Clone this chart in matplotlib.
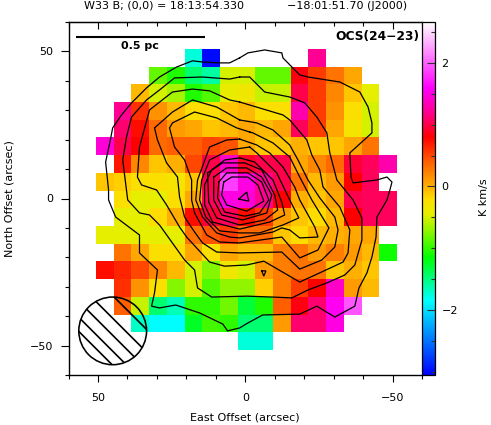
import numpy as np
import matplotlib
matplotlib.use("Agg")
import matplotlib.pyplot as plt
from matplotlib.colors import LinearSegmentedColormap, Normalize
from matplotlib.patches import Circle
from matplotlib.ticker import MultipleLocator, FixedLocator

n = np.nan

# integrated intensity (K km/s), rows from north to south, columns from east to west
ROW_P8 = [n, n, n, n, n, -1.75, -3.0, n, n, n, n, n, 1.2, n, n, n, n]
ROW_P7 = [n, n, n, -0.85, -1.05, -1.45, -1.6, -0.5, -0.5, -0.85, -0.85, 0.85, 0.55, 0.3, 0.05, n, n]
ROW_P6 = [n, n, -0.05, -0.5, -0.65, -1.05, -0.9, -0.4, -0.35, -0.55, -0.55, 1.0, 0.55, 0.2, -0.1, -0.45, n]
ROW_P5 = [n, 1.2, 0.6, 0.15, -0.05, -0.25, -0.25, -0.1, -0.05, -0.25, -0.25, 1.3, 0.55, 0.15, -0.25, -0.5, n]
ROW_P4 = [n, 1.1, 0.75, 0.35, 0.1, 0.05, -0.1, -0.05, 0.05, -0.05, 0.05, 1.05, 0.55, 0.05, -0.3, -0.5, n]
ROW_P3 = [1.45, 1.0, 0.8, 0.35, 0.4, 0.4, 0.5, 0.45, 0.05, -0.1, -0.1, 0.0, -0.1, -0.1, 0.05, 0.3, n]
ROW_P2 = [n, 0.7, 0.2, -0.1, 0.0, 0.5, 1.0, 1.4, 0.9, 1.0, 1.0, 0.05, 0.2, 0.35, 0.95, 1.05, 1.3]
ROW_P1 = [-0.1, -0.15, -0.25, -0.25, -0.3, -0.1, 1.0, 1.85, 1.5, 1.2, 1.0, 0.3, -0.05, 0.1, 0.8, 1.05, n]
ROW_00 = [n, -0.25, -0.45, -0.45, -0.25, 0.05, 1.05, 1.5, 1.45, 1.2, 0.8, 0.0, -0.1, 0.05, 1.0, 1.05, 1.05]
ROW_M1 = [n, -0.45, -0.45, -0.2, 0.0, 0.75, 0.95, 1.05, 0.75, 0.55, 0.1, -0.1, -0.2, -0.05, 0.8, 1.05, 1.05]
ROW_M2 = [-0.45, -0.45, -0.45, -0.45, -0.45, 0.3, 0.45, 0.55, 0.35, 0.35, -0.1, -0.2, -0.05, 0.0, 0.05, 0.05, n]
ROW_M3 = [n, 0.3, 0.05, -0.25, -0.25, 0.05, -0.25, 0.05, -0.05, -0.05, 0.25, 0.3, 0.1, 0.25, 0.1, -0.05, -1.1]
ROW_M4 = [0.75, 0.65, 0.5, 0.2, -0.05, -0.5, -0.75, -0.35, -0.5, 0.1, 0.25, 0.3, 0.3, -0.1, 0.0, -0.1, n]
ROW_M5 = [n, 0.6, 0.15, -0.25, -0.75, -0.5, -0.9, -0.7, -0.7, -0.15, 0.25, 0.55, 0.8, 1.4, 0.1, -0.05, n]
ROW_M6 = [n, 0.4, -0.55, -1.45, -1.65, -1.0, -1.0, -0.8, -1.3, -1.05, 0.4, 0.85, 1.1, 1.55, 1.95, n, n]
ROW_M7 = [n, n, -1.7, -1.85, -1.85, -1.25, -0.95, -1.0, -1.45, -1.45, 0.1, 1.1, 1.1, 1.5, n, n, n]
ROW_M8 = [n, n, n, n, n, n, n, n, -1.75, -1.75, n, n, n, n, n, n, n]

ROWS = [ROW_P8, ROW_P7, ROW_P6, ROW_P5, ROW_P4, ROW_P3, ROW_P2, ROW_P1, ROW_00,
        ROW_M1, ROW_M2, ROW_M3, ROW_M4, ROW_M5, ROW_M6, ROW_M7, ROW_M8]

# contour lines, offsets in arcsec
C1_X = [1.9, 5.3, 8.7, 14.5, 17.9, 23.3, 29.1, 33.5, 38.6, 42, 45, 46, 47.4, 46.4, 46.4, 44, 35.9, 35.9, 29.8, 30.8, 31.8, 29.1, 23.6, 15.5, 7.6, 6, 1.9, -0.9, -5.9, -18.5, -24.3, -30.4, -37.2, -38.6, -41.3, -43, -44.4, -44.7, -48.1, -49.1, -49.8, -48.1, -44.7, -36.6, -35.9, -35.5, -43, -43, -41.7, -38.9, -32.1, -21.3, -18.5, -12.8, -12.4, -6.6, -0.9, 1.9]
C1_Y = [47.8, 46.1, 46.1, 46.4, 46.8, 44.7, 41.3, 37.6, 32.5, 28.4, 24, 18.9, 12.4, 2.9, -0.5, -6.3, -12.4, -18.5, -24.3, -32.1, -36.6, -37.2, -36.2, -38.9, -42.7, -45, -44, -42.3, -39.6, -39.3, -36.6, -40.3, -36.6, -30.4, -25.3, -19.9, -13.1, -6.3, -0.5, 2.9, 5.6, 7.3, 6.3, 5.3, 7.3, 15.5, 22.3, 25.7, 31.1, 36.2, 39.6, 41.3, 42, 47.8, 49.5, 50.5, 49.5, 47.8]
C2_X = [1.9, 5.3, 14.5, 24, 29.1, 33.5, 38.6, 40.3, 41.6, 39.9, 35.9, 32.5, 29.1, 20.6, 17.2, 16.2, 11.4, -0.5, -9.4, -15.8, -21.3, -27.7, -33.8, -37.2, -39.6, -39.6, -36.6, -31.1, -28.7, -27.7, -24.3, -20.2, -15.1, -6.6, -1.5, 1.9]
C2_Y = [41.3, 40.6, 41.3, 41, 36.9, 33.5, 27.7, 20.9, 13.1, -0.5, -4.9, -5.6, -9, -20.9, -24.3, -30.4, -33.5, -33.2, -33.5, -33.8, -31.1, -28.7, -26, -22.6, -14.1, -6.6, -0.5, 6.3, 15.5, 22.3, 27.7, 32.5, 34.5, 36.2, 41.3, 41.3]
C3_X = [1.9, 5.3, 12.1, 17.9, 24.7, 32.5, 35.9, 36.6, 35.2, 30.1, 26.7, 22.3, 19.9, 12.1, 7, -0.5, -6.3, -18.5, -27.4, -33.2, -34.9, -35.5, -32.1, -26.4, -25.3, -22.6, -20.9, -15.1, -12.8, 1.9]
C3_Y = [32.8, 33.5, 36.6, 37.2, 36.2, 30.1, 17.5, 7.3, 4.6, 2.9, -2.2, -9.7, -13.1, -21.6, -23, -22.6, -21.3, -28.4, -24.3, -21.6, -18.5, -10.7, -2.9, 3.9, 9.7, 14.8, 19.9, 26.7, 28.4, 32.8]
C4_X = [1.9, 9.7, 17.9, 24.7, 30.8, 29.8, 26.7, 23, 22.3, 20.6, 17.2, 14.5, 9.7, 1.9, -12.4, -18.5, -26, -30.4, -31.5, -30.4, -25.3, -21.3, -17.9, -15.1, -9.4, -3.9, 1.9]
C4_Y = [26.7, 31.1, 33.5, 29.4, 24, 19.9, 12.1, 7.3, 0.5, -6.3, -11.4, -15.1, -18.2, -18.5, -18.2, -24, -20.9, -16.5, -10.7, -6.3, 0.2, 6.3, 13.1, 18.2, 23.3, 25.7, 26.7]
C5_X = [-1.5, 2.9, 9.7, 17.2, 24.7, 25.7, 24, 20.6, 18.2, 18.2, 17.2, 13.1, 8.7, 1.9, -12.4, -18.5, -24.7, -28.4, -22.6, -18.5, -15.1, -9.4, -2.6, -1.5]
C5_Y = [22.6, 24, 27.4, 29.4, 25.7, 24, 17.5, 13.1, 6.3, -0.5, -4.9, -12.4, -14.8, -15.1, -13.1, -20.2, -17.5, -10, -0.5, 7.3, 14.1, 18.9, 22.3, 22.6]
C6_X = [1.9, 6.3, 12.1, 16.2, 16.8, 14.5, 9.7, 5.3, 1.9, -9.4, -12.4, -15.1, -18.5, -24.7, -23.6, -18.5, -16.8, -12.8, -8.3, -3.9, 1.9]
C6_Y = [20.2, 19.9, 17.5, 6.3, -0.5, -6.3, -11.7, -13.1, -13.4, -11.4, -10, -10.7, -13.4, -13.1, -9.7, -0.5, 3.9, 10.7, 15.5, 18.2, 20.2]
C7_X = [-1.5, 5.3, 12.1, 14.8, 15.5, 13.4, 8.7, 1.9, -4.9, -12.8, -18.2, -15.1, -10.7, -3.9, -1.5]
C7_Y = [17.5, 16.5, 13.1, 6.3, -0.5, -6.3, -11, -11.7, -11.7, -9, -6.6, -0.5, 8.7, 15.5, 17.5]
C8_X = [1.9, 7, 11.4, 13.8, 13.8, 11.1, 1.9, -8.3, -13.4, -12.4, -9.4, -3.2, 1.9]
C8_Y = [13.8, 13.1, 9.7, 4.6, -2.2, -8, -10.4, -8, -5.6, -1.2, 6.3, 12.4, 13.8]
C9_X = [12.8, 7.7, 0.2, -5.6, -10, -11, -6.6, 1.9, 9.7, 12.4, 12.8]
C9_Y = [8.7, 12.1, 12.1, 9.7, 1.2, -3.9, -7.3, -9, -6.6, -1.2, 8.7]
C10_X = [10.7, 6.3, -0.5, -5.6, -9, -7.3, 0.9, 8, 10.7, 10.7]
C10_Y = [7.3, 10.4, 10.4, 7.3, 1.2, -4.9, -7.3, -5.6, -0.5, 7.3]
C11_X = [9, 6.3, -0.9, -5.6, -8, -4.9, 0.2, 7, 9.4, 9]
C11_Y = [5.6, 8.7, 8.7, 5.6, -0.5, -4.9, -6, -4.6, 0.2, 5.6]
C12_X = [7.3, 4.6, -0.9, -4.3, -6.3, -0.5, 6.3, 8, 7.3]
C12_Y = [5.6, 7.3, 7.3, 4.6, -0.9, -4.3, -2.2, 1.2, 5.6]
C13_X = [2.2, -0.5, -1.2, 2.2]
C13_Y = [-0.2, 2.2, -0.9, -0.2]
C14_X = [-5.6, -7, -6.3, -5.6]
C14_Y = [-24.6, -24.6, -26.4, -24.6]

CONTOURS = [(C1_X, C1_Y), (C2_X, C2_Y), (C3_X, C3_Y), (C4_X, C4_Y), (C5_X, C5_Y),
            (C6_X, C6_Y), (C7_X, C7_Y), (C8_X, C8_Y), (C9_X, C9_Y), (C10_X, C10_Y),
            (C11_X, C11_Y), (C12_X, C12_Y), (C13_X, C13_Y), (C14_X, C14_Y)]

BEAM_X = 45
BEAM_Y = -45
BEAM_R = 11.5
HATCH_K = [-78.0, -85.7, -91.5, -96.9, -101.7]

BAR_X = [57.3, 13.8]
BAR_Y = [55, 55]

VMIN = -3.05
VMAX = 2.66
CMAP_STOPS = [(-3.05, "#0000ff"), (-1.85, "#00ffff"), (-1.15, "#00ff00"), (-0.45, "#e6f000"),
              (-0.2, "#ffdc00"), (0.0, "#ffb000"), (0.4, "#ff6000"), (0.8, "#ff0000"),
              (1.2, "#ff0090"), (1.6, "#ff00ff"), (2.66, "#ffffff")]

FONT = 8

cmap = LinearSegmentedColormap.from_list(
    "ocs", [((v - VMIN) / (VMAX - VMIN), c) for v, c in CMAP_STOPS], N=512)
cmap.set_bad("white")

fig = plt.figure(figsize=(4.91, 4.25), dpi=100)
ax = fig.add_axes([68.5 / 491, 50 / 425, 353.5 / 491, 353 / 425])

# image: cells are 6 arcsec wide, grid slightly off the (0,0) position
data = np.array(ROWS)
x0 = -0.35
y0 = -0.45
half = 8.5 * 6
im = ax.imshow(data, cmap=cmap, norm=Normalize(VMIN, VMAX), interpolation="nearest",
               extent=[x0 + half, x0 - half, y0 - half, y0 + half], aspect="auto", zorder=1)

for cx, cy in CONTOURS:
    ax.plot(cx, cy, color="black", lw=0.9, zorder=3, solid_joinstyle="miter")

# scale bar
ax.plot(BAR_X, BAR_Y, color="black", lw=1.5, zorder=4, solid_capstyle="butt")
ax.text(35.6, 51.8, "0.5 pc", ha="center", va="center", fontsize=FONT, fontweight="bold")
ax.text(-59, 55.2, "OCS(24\u221223)", ha="right", va="center", fontsize=8.8, fontweight="bold")

# beam
beam = Circle((BEAM_X, BEAM_Y), BEAM_R, fill=False, edgecolor="black", lw=1.15, zorder=5)
ax.add_patch(beam)
for k in HATCH_K:
    xs = np.array([BEAM_X - BEAM_R, BEAM_X + BEAM_R])
    line, = ax.plot(xs, xs + k, color="black", lw=1.2, zorder=4)
    line.set_clip_path(beam)

ax.set_xlim(60, -60)
ax.set_ylim(-60, 60)
ax.xaxis.set_major_locator(MultipleLocator(50))
ax.xaxis.set_minor_locator(MultipleLocator(10))
ax.yaxis.set_major_locator(MultipleLocator(50))
ax.yaxis.set_minor_locator(MultipleLocator(10))
ax.tick_params(axis="x", which="major", direction="out", length=5, width=0.8, labelsize=FONT, pad=8)
ax.tick_params(axis="y", which="major", direction="out", length=6, width=0.8, labelsize=FONT, pad=5)
ax.tick_params(which="minor", direction="out", length=3, width=0.8)
ax.spines["right"].set_visible(False)
for side in ["top", "left", "bottom"]:
    ax.spines[side].set_linewidth(1.0)

top = ax.secondary_xaxis("top")
top.xaxis.set_major_locator(MultipleLocator(50))
top.xaxis.set_minor_locator(MultipleLocator(10))
top.tick_params(which="major", direction="in", length=5, width=0.8, labeltop=False)
top.tick_params(which="minor", direction="in", length=3, width=0.8)

ax.set_xlabel("East Offset (arcsec)", fontsize=FONT, labelpad=7)
ax.set_ylabel("North Offset (arcsec)", fontsize=FONT, labelpad=11)
fig.text(84 / 491, 1 - 6 / 425, "W33 B; (0,0) = 18:13:54.330", fontsize=FONT, ha="left", va="center")
fig.text(407 / 491, 1 - 6 / 425, "\u221218:01:51.70 (J2000)", fontsize=FONT, ha="right", va="center")

# colorbar
cax = fig.add_axes([422 / 491, 50 / 425, 12.5 / 491, 353 / 425])
cb = fig.colorbar(im, cax=cax)
cb.ax.yaxis.set_major_locator(FixedLocator([-2, 0, 2]))
cb.ax.yaxis.set_minor_locator(MultipleLocator(0.5))
cb.ax.tick_params(which="major", direction="in", length=6, width=0.8, labelsize=FONT, pad=5, color="#333333")
cb.ax.tick_params(which="minor", direction="in", length=3, width=0.8, color="#333333")
cb.outline.set_linewidth(0.9)
fig.text(484 / 491, 1 - 197 / 425, "K km/s", rotation=90, fontsize=FONT, ha="center", va="center")

fig.savefig("out.png", dpi=100)
